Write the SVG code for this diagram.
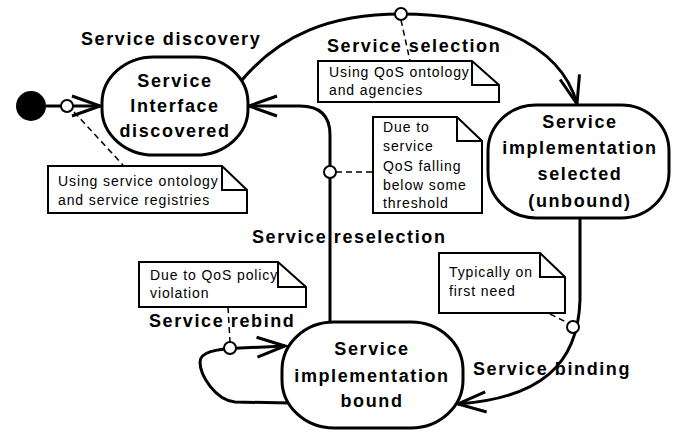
<svg xmlns="http://www.w3.org/2000/svg" width="679" height="434" viewBox="0 0 679 434">
<style>
.node{fill:#fff;stroke:#000;stroke-width:3}
.nt{font-family:"Liberation Sans",Arial,sans-serif;font-weight:bold;font-size:18px;letter-spacing:1.6px;text-anchor:middle;fill:#000}
.lbl{font-family:"Liberation Sans",Arial,sans-serif;font-weight:bold;font-size:18px;letter-spacing:1.6px;fill:#000}
.note{fill:#fff;stroke:#000;stroke-width:2;stroke-linejoin:miter}
.fold{fill:none;stroke:#000;stroke-width:2}
.ntx{font-family:"Liberation Sans",Arial,sans-serif;font-size:14px;letter-spacing:0.9px;fill:#000}
.edge{fill:none;stroke:#000;stroke-width:3;marker-end:url(#arr)}
.dash{fill:none;stroke:#000;stroke-width:1.5;stroke-dasharray:6,4}
.anch{fill:#fff;stroke:#000;stroke-width:2}
</style>
<defs>
<marker id="arr" viewBox="-32 -14 36 28" refX="0" refY="0" markerWidth="36" markerHeight="28" markerUnits="userSpaceOnUse" orient="auto">
<path d="M-28,-10 L0,0 L-28,10" fill="none" stroke="#000" stroke-width="3"/>
</marker>
</defs>
<rect width="679" height="434" fill="#fff"/>

<g id="connectors">
<path class="edge" d="M46,106 L100,106"/>
<path class="edge" d="M242,80 C280,35 330,14 401,14 C480,14 560,40 577,104"/>
<path class="edge" d="M330,322 L330,135 C330,116 320,106 300,106 L249,106"/>
<path class="edge" d="M580,218 L580,300 C578,365 540,398 458,404"/>
<path class="edge" d="M290,403 L235,402 C215,400 200,375 200,362 C200,352 215,349 240,348 L285,346"/>
<path class="dash" d="M74,112 L123,165"/>
<path class="dash" d="M401,20 L410,61"/>
<path class="dash" d="M336,172 L373,172"/>
<path class="dash" d="M228,307 L230,342"/>
<path class="dash" d="M550,314 L568,323"/>
<circle class="anch" cx="67" cy="106" r="6"/>
<circle class="anch" cx="401" cy="14" r="6"/>
<circle class="anch" cx="330" cy="172" r="6"/>
<circle class="anch" cx="230" cy="348" r="6"/>
<circle class="anch" cx="573" cy="327" r="6"/>
</g>

<g id="labels">
<text class="lbl" x="81" y="45">Service discovery</text>
<text class="lbl" x="327" y="52">Service selection</text>
<text class="lbl" x="252" y="243">Service reselection</text>
<text class="lbl" x="149" y="327">Service rebind</text>
<text class="lbl" x="473" y="375">Service binding</text>
</g>

<g id="start">
<circle cx="31" cy="106" r="15" fill="#000"/>
</g>

<g id="node-interface-discovered">
<rect class="node" x="102" y="57" width="146" height="98" rx="52" ry="46"/>
<text class="nt" x="175" y="87">Service</text>
<text class="nt" x="175" y="112">Interface</text>
<text class="nt" x="175" y="137">discovered</text>
</g>

<g id="node-impl-selected">
<rect class="node" x="488" y="105" width="181" height="113" rx="48" ry="46"/>
<text class="nt" x="580" y="128">Service</text>
<text class="nt" x="580" y="154">implementation</text>
<text class="nt" x="580" y="180">selected</text>
<text class="nt" x="580" y="207">(unbound)</text>
</g>

<g id="node-impl-bound">
<rect class="node" x="282" y="322" width="181" height="106" rx="52" ry="48"/>
<text class="nt" x="372" y="355">Service</text>
<text class="nt" x="372" y="382">implementation</text>
<text class="nt" x="372" y="407">bound</text>
</g>

<g id="note-registries">
<path class="note" d="M48,166 L222,166 L247,190 L247,213 L48,213 Z"/>
<path class="fold" d="M222,166 L222,190 L247,190"/>
<text class="ntx" x="58" y="186">Using service ontology</text>
<text class="ntx" x="58" y="205">and service registries</text>
</g>

<g id="note-agencies">
<path class="note" d="M318,61 L472,61 L499,85 L499,102 L318,102 Z"/>
<path class="fold" d="M472,61 L472,85 L499,85"/>
<text class="ntx" x="329" y="77">Using QoS ontology</text>
<text class="ntx" x="329" y="95">and agencies</text>
</g>

<g id="note-threshold">
<path class="note" d="M373,117 L457,117 L482,141 L482,213 L373,213 Z"/>
<path class="fold" d="M457,117 L457,141 L482,141"/>
<text class="ntx" x="383" y="132">Due to</text>
<text class="ntx" x="383" y="151">service</text>
<text class="ntx" x="383" y="171">QoS falling</text>
<text class="ntx" x="383" y="190">below some</text>
<text class="ntx" x="383" y="208">threshold</text>
</g>

<g id="note-policy">
<path class="note" d="M139,262 L278,262 L306,287 L306,307 L139,307 Z"/>
<path class="fold" d="M278,262 L278,287 L306,287"/>
<text class="ntx" x="150" y="280">Due to QoS policy</text>
<text class="ntx" x="150" y="298">violation</text>
</g>

<g id="note-first-need">
<path class="note" d="M439,253 L540,253 L565,277 L565,313 L439,313 Z"/>
<path class="fold" d="M540,253 L540,277 L565,277"/>
<text class="ntx" x="449" y="277">Typically on</text>
<text class="ntx" x="449" y="296">first need</text>
</g>
</svg>
